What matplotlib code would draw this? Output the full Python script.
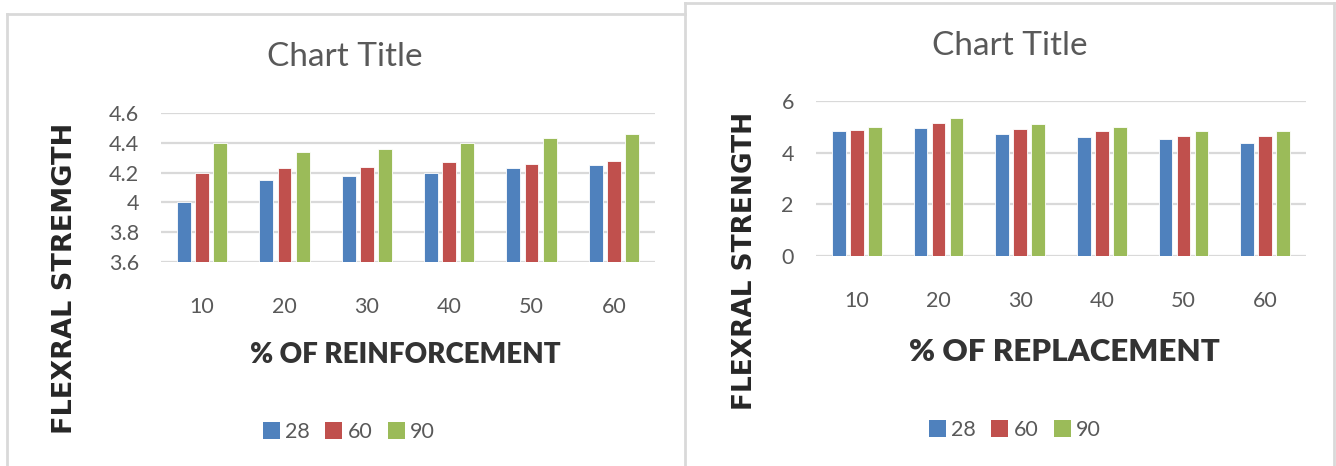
import matplotlib
matplotlib.use("Agg")
import matplotlib.pyplot as plt
from matplotlib.lines import Line2D
from matplotlib.patches import Patch
import numpy as np

# curing ages (days) used as the series
ages = ["28", "60", "90"]
percent = ["10", "20", "30", "40", "50", "60"]

# flexural strength vs % of reinforcement
reinf_28 = [4.00, 4.15, 4.18, 4.20, 4.23, 4.25]
reinf_60 = [4.20, 4.23, 4.24, 4.27, 4.26, 4.28]
reinf_90 = [4.40, 4.34, 4.36, 4.40, 4.43, 4.46]

# flexural strength vs % of replacement
repl_28 = [4.85, 4.95, 4.71, 4.60, 4.54, 4.39]
repl_60 = [4.88, 5.15, 4.92, 4.85, 4.63, 4.66]
repl_90 = [4.98, 5.36, 5.11, 5.00, 4.85, 4.83]

colors = ["#4F81BD", "#C0504D", "#9BBB59"]
grid_c = "#D9D9D9"
text_c = "#595959"

W, H = 1336, 466
fig = plt.figure(figsize=(W / 100, H / 100), dpi=100)
fig.patch.set_facecolor("white")


def px(x0, y0, x1, y1):
    # pixel box (top-left origin) -> figure fraction rect
    return [x0 / W, 1 - y1 / H, (x1 - x0) / W, (y1 - y0) / H]


def fx(x):
    return x / W


def fy(y):
    return 1 - y / H


# chart frames
frame = dict(color=grid_c, lw=2, transform=fig.transFigure, clip_on=False)
fig.add_artist(Line2D([fx(7), fx(685)], [fy(14), fy(14)], **frame))
fig.add_artist(Line2D([fx(7), fx(7)], [fy(14), fy(470)], **frame))
fig.add_artist(Line2D([fx(685), fx(1334)], [fy(3), fy(3)], **frame))
fig.add_artist(Line2D([fx(685), fx(685)], [fy(3), fy(470)], **frame))
fig.add_artist(Line2D([fx(1334), fx(1334)], [fy(3), fy(470)], **frame))


def bar_chart(rect, series, ylim, yticks, yfmt):
    ax = fig.add_axes(rect)
    x = np.arange(len(percent))
    bw, step = 0.17, 0.22
    for i, vals in enumerate(series):
        ax.bar(x + (i - 1) * step, vals, bw, color=colors[i],
               edgecolor="white", linewidth=0.6, zorder=3)
    ax.set_xlim(-0.5, len(percent) - 0.5)
    ax.set_ylim(*ylim)
    ax.set_yticks(yticks)
    ax.set_yticklabels([yfmt(v) for v in yticks])
    ax.set_xticks(x)
    ax.set_xticklabels(percent)
    for s in ax.spines.values():
        s.set_visible(False)
    ax.grid(axis="y", color=grid_c, lw=1.6, zorder=0)
    ax.tick_params(length=0, colors=text_c, labelsize=15.5)
    ax.tick_params(axis="x", pad=25)
    ax.tick_params(axis="y", pad=16)
    for t in ax.get_xticklabels() + ax.get_yticklabels():
        t.set_fontfamily("Lato")
    return ax


bar_chart(px(161, 113, 655, 262), [reinf_28, reinf_60, reinf_90],
          (3.6, 4.6), [3.6, 3.8, 4.0, 4.2, 4.4, 4.6],
          lambda v: "4" if abs(v - 4) < 1e-9 else f"{v:.1f}")
bar_chart(px(816, 101, 1306, 256), [repl_28, repl_60, repl_90],
          (0, 6), [0, 2, 4, 6], lambda v: f"{v:d}")

# titles
fig.text(fx(345), fy(57), "Chart Title", ha="center", va="center",
         fontsize=24, color=text_c, family="Lato")
fig.text(fx(1010), fy(46), "Chart Title", ha="center", va="center",
         fontsize=24, color=text_c, family="Lato")

# axis titles
fig.text(fx(405), fy(355), "% OF REINFORCEMENT", ha="center", va="center",
         fontsize=20, weight="heavy", color="#333333", family="Lato")
fig.text(fx(1064), fy(352), "% OF REPLACEMENT", ha="center", va="center",
         fontsize=22.5, weight="heavy", color="#333333", family="Lato")
fig.text(fx(65), fy(278), "FLEXRAL STREMGTH", ha="center", va="center",
         rotation=90, fontsize=19.5, weight="bold", color="#262626",
         family="DejaVu Sans")
fig.text(fx(745), fy(261), "FLEXRAL STRENGTH", ha="center", va="center",
         rotation=90, fontsize=19, weight="bold", color="#262626",
         family="DejaVu Sans")

# legends
handles = [Patch(facecolor=c, edgecolor="none") for c in colors]
for cx, cy in [(349, 432), (1015, 430)]:
    leg = fig.legend(handles, ages, loc="center", bbox_to_anchor=(fx(cx), fy(cy)),
                     ncol=3, frameon=False, handlelength=0.8, handleheight=0.8,
                     handletextpad=0.25, columnspacing=0.7,
                     prop={"family": "Lato", "size": 15.5})
    for t in leg.get_texts():
        t.set_color(text_c)

fig.savefig("out.png", dpi=100, facecolor="white")
